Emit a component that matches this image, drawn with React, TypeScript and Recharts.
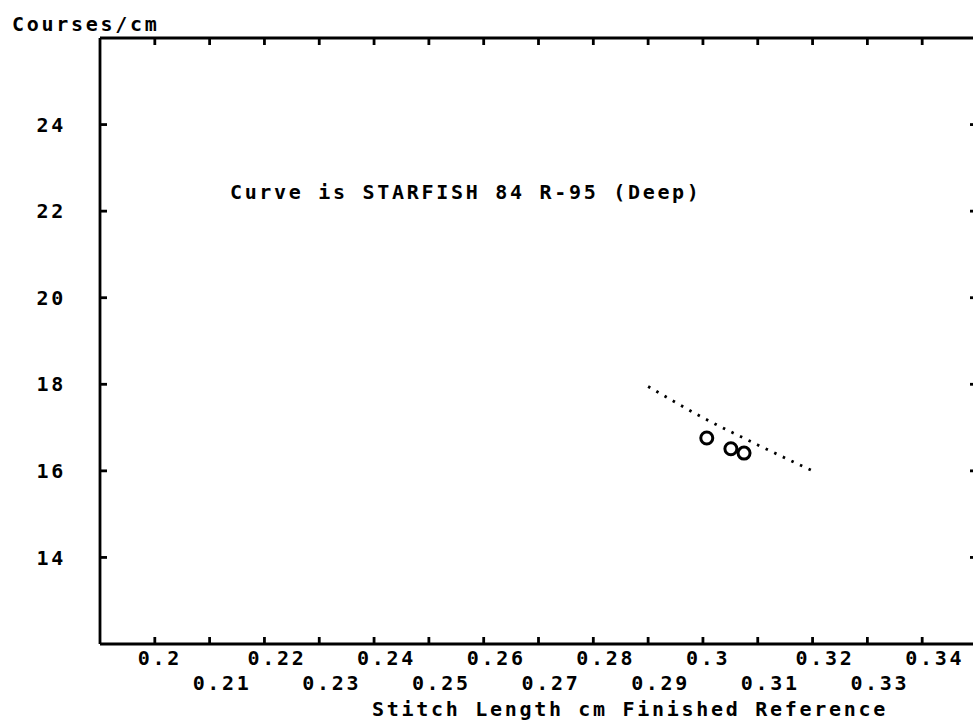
import React from 'react';
import {
  ComposedChart,
  XAxis,
  YAxis,
  Line,
  Scatter,
  ReferenceDot,
  Label,
} from 'recharts';

// ---- data ----
const X_TICKS = [0.2, 0.21, 0.22, 0.23, 0.24, 0.25, 0.26, 0.27, 0.28, 0.29, 0.3, 0.31, 0.32, 0.33, 0.34];
const Y_TICKS = [14, 16, 18, 20, 22, 24];
const X_DOMAIN = [0.19, 0.35];
const Y_DOMAIN = [12, 26];

const CURVE_X = [0.29, 0.3, 0.31, 0.32];
const CURVE_Y = [17.95, 17.23, 16.6, 16.0];

const POINT_X = [0.3007, 0.3051, 0.3075];
const POINT_Y = [16.76, 16.51, 16.41];

const X_TITLE = 'Stitch Length cm Finished Reference';
const Y_TITLE = 'Courses/cm';
const NOTE = 'Curve is STARFISH 84 R-95 (Deep)';
const NOTE_POS = { x: 0.2137, y: 22.28 };

const curveData = CURVE_X.map((x, i) => ({ x, y: CURVE_Y[i] }));
const pointData = POINT_X.map((x, i) => ({ x, y: POINT_Y[i] }));

// ---- styles ----
const FONT = '"DejaVu Sans Mono", "Liberation Mono", monospace';
const INK = '#000';
const textStyle = {
  fontFamily: FONT,
  fontSize: 20,
  fontWeight: 'bold',
  letterSpacing: 2.7,
  fill: INK,
} as const;
const TICK_LEN = 7;
const AXIS_W = 2.8;

const fmt = (v: number) => String(Number(v.toFixed(2)));

const BottomTick = (props: any) => {
  const { x, y, payload } = props;
  const v = payload.value as number;
  const idx = Math.round((v - 0.2) * 100);
  const row = idx % 2 === 0 ? 0 : 1;
  return (
    <g>
      <line x1={x} x2={x} y1={y} y2={y - TICK_LEN} stroke={INK} strokeWidth={AXIS_W} />
      <text x={x - 17} y={y + (row === 0 ? 21 : 46)} textAnchor="start" style={textStyle}>
        {fmt(v)}
      </text>
    </g>
  );
};

const TopTick = (props: any) => {
  const { x, y } = props;
  return <line x1={x} x2={x} y1={y} y2={y + TICK_LEN} stroke={INK} strokeWidth={AXIS_W} />;
};

const LeftTick = (props: any) => {
  const { x, y, payload } = props;
  return (
    <g>
      <line x1={x} x2={x + TICK_LEN} y1={y} y2={y} stroke={INK} strokeWidth={AXIS_W} />
      <text x={x - 34} y={y} dy="0.36em" textAnchor="end" style={textStyle}>
        {String(payload.value)}
      </text>
    </g>
  );
};

const RightTick = (props: any) => {
  const { x, y } = props;
  return <line x1={x} x2={x - TICK_LEN} y1={y} y2={y} stroke={INK} strokeWidth={AXIS_W} />;
};

const Ring = (props: any) => {
  const { cx, cy } = props;
  return <circle cx={cx} cy={cy} r={6} fill="none" stroke={INK} strokeWidth={3} />;
};

export default function App() {
  return (
    <div
      style={{
        position: 'fixed',
        left: 0,
        top: 0,
        width: 973,
        height: 724,
        overflow: 'hidden',
        background: '#fff',
      }}
    >
      <ComposedChart width={990} height={724} margin={{ top: 0, right: 0, bottom: 0, left: 0 }}>
        <XAxis
          xAxisId="b"
          dataKey="x"
          type="number"
          orientation="bottom"
          domain={X_DOMAIN}
          ticks={X_TICKS}
          interval={0}
          height={80}
          tickSize={0}
          tickMargin={0}
          tickLine={false}
          tick={BottomTick}
          axisLine={{ stroke: INK, strokeWidth: AXIS_W }}
          allowDataOverflow
        >
          <Label
            content={(p: any) => (
              <text x={p.viewBox.x + 272} y={p.viewBox.y + 72} textAnchor="start" style={textStyle}>
                {X_TITLE}
              </text>
            )}
          />
        </XAxis>
        <XAxis
          xAxisId="t"
          dataKey="x"
          type="number"
          orientation="top"
          domain={X_DOMAIN}
          ticks={X_TICKS}
          interval={0}
          height={38}
          tickSize={0}
          tickMargin={0}
          tickLine={false}
          tick={TopTick}
          axisLine={{ stroke: INK, strokeWidth: AXIS_W }}
          allowDataOverflow
        />
        <YAxis
          yAxisId="l"
          type="number"
          orientation="left"
          domain={Y_DOMAIN}
          ticks={Y_TICKS}
          interval={0}
          width={100}
          tickSize={0}
          tickMargin={0}
          tickLine={false}
          tick={LeftTick}
          axisLine={{ stroke: INK, strokeWidth: AXIS_W }}
          allowDataOverflow
        >
          <Label
            content={(p: any) => (
              <text x={p.viewBox.x + 12} y={p.viewBox.y - 7} textAnchor="start" style={textStyle}>
                {Y_TITLE}
              </text>
            )}
          />
        </YAxis>
        <YAxis
          yAxisId="r"
          type="number"
          orientation="right"
          domain={Y_DOMAIN}
          ticks={Y_TICKS}
          interval={0}
          width={13}
          tickSize={0}
          tickMargin={0}
          tickLine={false}
          tick={RightTick}
          axisLine={{ stroke: INK, strokeWidth: AXIS_W }}
          allowDataOverflow
        />
        <Line
          xAxisId="b"
          yAxisId="l"
          data={curveData}
          dataKey="y"
          type="monotone"
          stroke={INK}
          strokeWidth={2.8}
          strokeDasharray="2.5 7"
          dot={false}
          activeDot={false}
          isAnimationActive={false}
        />
        <Scatter
          xAxisId="b"
          yAxisId="l"
          data={pointData}
          dataKey="y"
          shape={Ring}
          isAnimationActive={false}
        />
        <ReferenceDot
          xAxisId="b"
          yAxisId="l"
          x={NOTE_POS.x}
          y={NOTE_POS.y}
          r={0}
          fill="none"
          stroke="none"
        >
          <Label
            content={(p: any) => (
              <text x={p.viewBox.x} y={p.viewBox.y} textAnchor="start" style={textStyle}>
                {NOTE}
              </text>
            )}
          />
        </ReferenceDot>
      </ComposedChart>
    </div>
  );
}
